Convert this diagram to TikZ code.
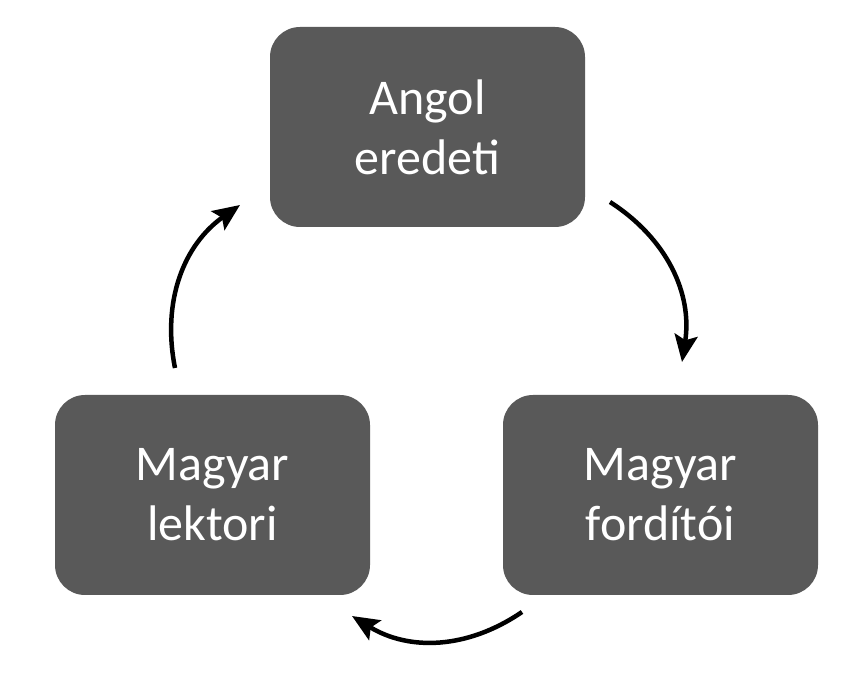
\documentclass[tikz,border=0pt]{standalone}
\usepackage{fontspec}
\setmainfont{Carlito}
\usepackage{xcolor}
\usetikzlibrary{arrows.meta}
\definecolor{boxgray}{HTML}{595959}

\begin{document}
\begin{tikzpicture}[x=1pt, y=1pt,
    stepbox/.style={fill=boxgray, rounded corners=30pt, minimum width=315pt,
      minimum height=200pt, inner sep=0pt, align=center, text=white,
      font=\fontsize{50}{60}\selectfont},
    cyclearrow/.style={line width=4.5pt, -{Stealth[length=27pt, width=23pt, inset=5pt]}}]
      % \draw[help lines, gray!50, very thin] (0,0) grid (863,688);
      \useasboundingbox (0,0) rectangle (863,688);

      \node[stepbox] (angol) at (427.5,561) {Angol\\eredeti};
      \node[stepbox] (lektori) at (212.5,193) {Magyar\\lektori};
      \node[stepbox] (forditoi) at (660.5,193) {Magyar\\fordítói};

      \coordinate (af1) at (610,486);
      \coordinate (af2) at (682,326);
      \coordinate (fl1) at (522,76);
      \coordinate (fl2) at (352,72);
      \coordinate (la1) at (175,320);
      \coordinate (la2) at (240,483);

      \draw[cyclearrow] (af1) to[bend left=33] (af2);
      \draw[cyclearrow] (fl1) to[bend left=33] (fl2);
      \draw[cyclearrow] (la1) to[bend left=33] (la2);
    \end{tikzpicture}
\end{document}
